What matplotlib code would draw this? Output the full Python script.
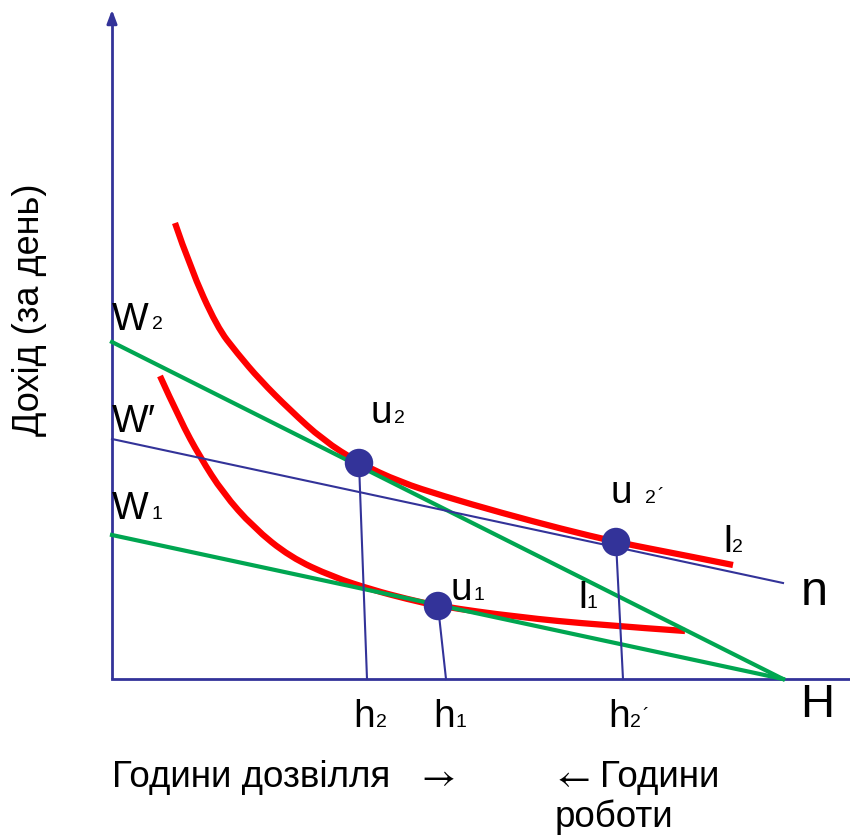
import matplotlib
matplotlib.use("Agg")
import matplotlib.pyplot as plt
from matplotlib.path import Path
from matplotlib.patches import PathPatch

plt.rcParams['font.family'] = ['Liberation Sans', 'DejaVu Sans']

# ---- data (units: horizontal = leisure hours scale, vertical = income scale) ----
H = 671.0                       # total hours (end of time axis)
y_top = 669.0                   # top of income axis
W2 = 337.0                      # budget line intercept W2
W1 = 144.0                      # budget line intercept W1
Wp_start, Wp_end = 240.0, 96.0  # line W'-n
n_end = 671.0

# indifference curve I2
i2_x = [63, 78, 105, 125, 148, 178, 211, 247, 288, 331, 390, 450, 504, 571, 621]
i2_y = [456, 412, 352, 326, 299, 269, 239, 216, 197, 183, 166, 150, 137, 124, 114]
# indifference curve I1
i1_x = [48, 68, 88, 111, 141, 178, 221, 261, 295, 326, 405, 488, 573]
i1_y = [303, 259, 222, 186, 152, 122, 102, 89, 80, 73, 62, 54, 48]

# equilibrium points u2, u1, u2'
pts_x = [247, 326, 504]
pts_y = [216, 73, 137]
# foot of the drop lines on the time axis h2, h1, h2'
feet_x = [255, 334, 511]

BLUE = '#333399'
GREEN = '#00A651'
RED = '#FF0000'

fig = plt.figure(figsize=(8.5, 8.39), dpi=100)
ax = fig.add_axes([0, 0, 1, 1])
ax.set_xlim(-112, 738)
ax.set_ylim(-160, 679)
ax.axis('off')

# axes
ax.plot([0, 0], [0, y_top - 8], color=BLUE, lw=2, solid_capstyle='butt')
ax.annotate('', xy=(0, y_top + 3), xytext=(0, y_top - 12),
            arrowprops=dict(arrowstyle='-|>,head_length=0.8,head_width=0.3',
                            color=BLUE, lw=2))
ax.plot([0, 738], [0, 0], color=BLUE, lw=2)

# budget lines
ax.plot([0, H], [W2, 0], color=GREEN, lw=3)
ax.plot([0, H], [W1, 0], color=GREEN, lw=3)
ax.plot([0, n_end], [Wp_start, Wp_end], color=BLUE, lw=1.5)

# drop lines
for px, py, fx in zip(pts_x, pts_y, feet_x):
    ax.plot([px, fx], [py, 0], color=BLUE, lw=1.5)


def smooth_curve(xs, ys, **kw):
    pts = list(zip(xs, ys))
    verts = [pts[0]]
    codes = [Path.MOVETO]
    n = len(pts)
    for i in range(1, n - 1):
        end = pts[n - 1] if i == n - 2 else ((pts[i][0] + pts[i + 1][0]) / 2,
                                              (pts[i][1] + pts[i + 1][1]) / 2)
        verts += [pts[i], end]
        codes += [Path.CURVE3, Path.CURVE3]
    ax.add_patch(PathPatch(Path(verts, codes), fill=False, **kw))


# indifference curves
smooth_curve(i2_x, i2_y, edgecolor=RED, lw=4.5, capstyle='butt')
smooth_curve(i1_x, i1_y, edgecolor=RED, lw=4.5, capstyle='butt')

# points
ax.scatter(pts_x, pts_y, s=420, color=BLUE, zorder=5, edgecolors='none')


def T(px, py, s, size, **kw):
    ax.text(px - 112, 679 - py, s, fontsize=size, ha='left', va='baseline', **kw)


BIG = 28
SUB = 14
T(112, 330, 'W', BIG); T(152, 329, '2', SUB)
T(112, 432, 'W′', BIG)
T(112, 519, 'W', BIG); T(152, 519, '1', SUB)
T(371, 423, 'u', BIG); T(394, 423, '2', SUB)
T(451, 600, 'u', BIG); T(474, 600, '1', SUB)
T(611, 503, 'u', BIG); T(645, 503, '2', SUB); T(657, 501, '´', SUB)
T(722, 552, 'I', BIG); T(732, 552, '2', SUB)
T(577, 608, 'I', BIG); T(587, 608, '1', SUB)
T(801, 605, 'n', 35)
T(800, 717, 'H', 34)
T(353, 727, 'h', BIG); T(376, 727, '2', SUB)
T(433, 727, 'h', BIG); T(456, 727, '1', SUB)
T(608, 727, 'h', BIG); T(630, 727, '2', SUB); T(642, 721, '´', SUB)

BOT = 26.5
T(112, 787, 'Години дозвілля', BOT)
T(416, 787, r'$\rightarrow$', BOT, math_fontfamily='stix')
T(551, 787, r'$\leftarrow$', BOT, math_fontfamily='stix')
T(600, 787, 'Години', BOT)
T(555, 827, 'роботи', BOT)

ax.text(30 - 112, 679 - 310, 'Дохід (за день)', fontsize=26, rotation=90,
        ha='center', va='center')

fig.savefig('out.png', dpi=100)
